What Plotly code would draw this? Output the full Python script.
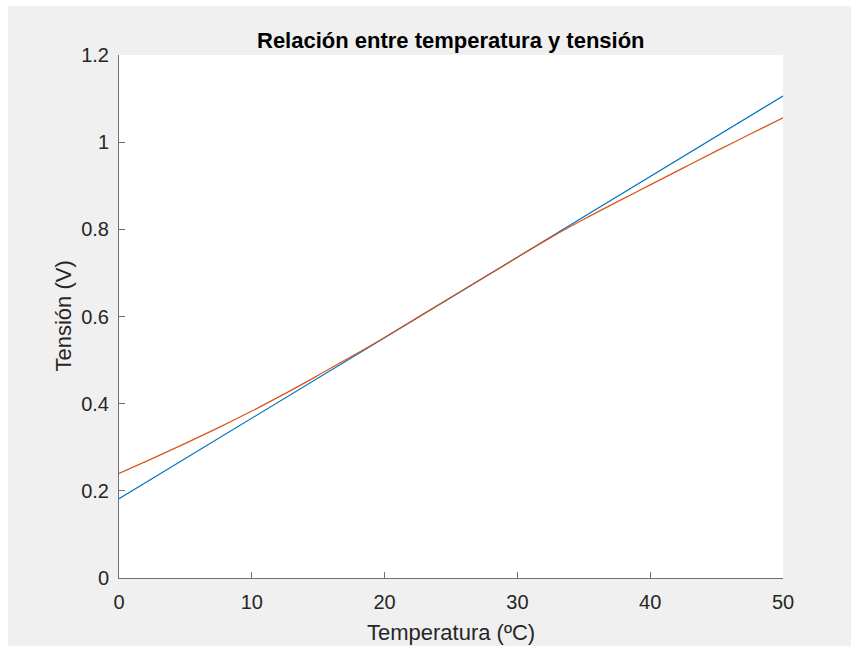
import plotly.graph_objects as go

# Data
temp_lin = [0, 5, 10, 15, 20, 25, 30, 35, 40, 45, 50]
tension_lin = [0.182, 0.274, 0.367, 0.459, 0.552, 0.644, 0.736, 0.829, 0.921, 1.014, 1.106]

temp_curve = [0, 2.5, 5, 7.5, 10, 12.5, 15, 17.5, 20, 22.5, 25, 27.5, 30, 32.5, 35, 37.5, 40, 42.5, 45, 47.5, 50]
tension_curve = [0.240, 0.274, 0.309, 0.345, 0.383, 0.423, 0.465, 0.508, 0.552, 0.598, 0.644, 0.690, 0.736, 0.781, 0.823, 0.863, 0.902, 0.941, 0.980, 1.018, 1.056]

x_ticks = [0, 10, 20, 30, 40, 50]
y_ticks = [0, 0.2, 0.4, 0.6, 0.8, 1.0, 1.2]
y_ticktext = ["0", "0.2", "0.4", "0.6", "0.8", "1", "1.2"]

title_text = "Relación entre temperatura y tensión"
xlabel = "Temperatura (ºC)"
ylabel = "Tensión (V)"

FONT = "Liberation Sans, Arial, sans-serif"
AXC = "#707070"
TXT = "#262626"

fig = go.Figure()
fig.add_trace(go.Scatter(x=temp_lin, y=tension_lin, mode="lines",
                         line=dict(color="#0072BD", width=1.2), showlegend=False))
fig.add_trace(go.Scatter(x=temp_curve, y=tension_curve, mode="lines",
                         line=dict(color="#D95319", width=1.2, shape="spline", smoothing=1.0),
                         showlegend=False))

W, H = 851, 646
L, R, T, B = 119, 783, 55, 578
pw, ph = R - L, B - T

def px_x(p):
    return (p - L) / pw

def px_y(p):
    return (B - p) / ph

fig.update_layout(
    width=W, height=H,
    margin=dict(l=L, r=W - R, t=T, b=H - B),
    paper_bgcolor="#f0f0f0",
    plot_bgcolor="white",
    font=dict(family=FONT, color=TXT, size=20),
    xaxis=dict(range=[0, 50], tickvals=x_ticks, ticks="inside", ticklen=6,
               tickcolor=AXC, showline=True, linecolor=AXC, linewidth=1,
               showgrid=False, zeroline=False, tickfont=dict(size=20, color=TXT),
               ticklabelstandoff=6, fixedrange=True),
    yaxis=dict(range=[0, 1.2], tickvals=y_ticks, ticktext=y_ticktext, ticks="inside",
               ticklen=6, tickcolor=AXC, showline=True, linecolor=AXC, linewidth=1,
               showgrid=False, zeroline=False, tickfont=dict(size=20, color=TXT),
               ticklabelstandoff=5, fixedrange=True),
    shapes=[
        dict(type="rect", xref="paper", yref="paper", layer="below",
             x0=px_x(-20), x1=px_x(W + 20), y0=px_y(6), y1=px_y(-20),
             fillcolor="white", line=dict(width=0)),
        dict(type="rect", xref="paper", yref="paper", layer="below",
             x0=px_x(-20), x1=px_x(8), y0=px_y(H + 20), y1=px_y(-20),
             fillcolor="white", line=dict(width=0)),
    ],
    annotations=[
        dict(text="<b>" + title_text + "</b>", xref="paper", yref="paper",
             x=0.5, y=px_y(40), xanchor="center", yanchor="middle", showarrow=False,
             font=dict(size=22, color="#000000", family=FONT)),
        dict(text=xlabel, xref="paper", yref="paper", x=0.5, y=px_y(632),
             xanchor="center", yanchor="middle", showarrow=False,
             font=dict(size=22, color=TXT, family=FONT)),
        dict(text=ylabel, xref="paper", yref="paper", x=px_x(63), y=0.5,
             xanchor="center", yanchor="middle", showarrow=False, textangle=-90,
             font=dict(size=22, color=TXT, family=FONT)),
    ],
)

fig.write_html("out.html")
